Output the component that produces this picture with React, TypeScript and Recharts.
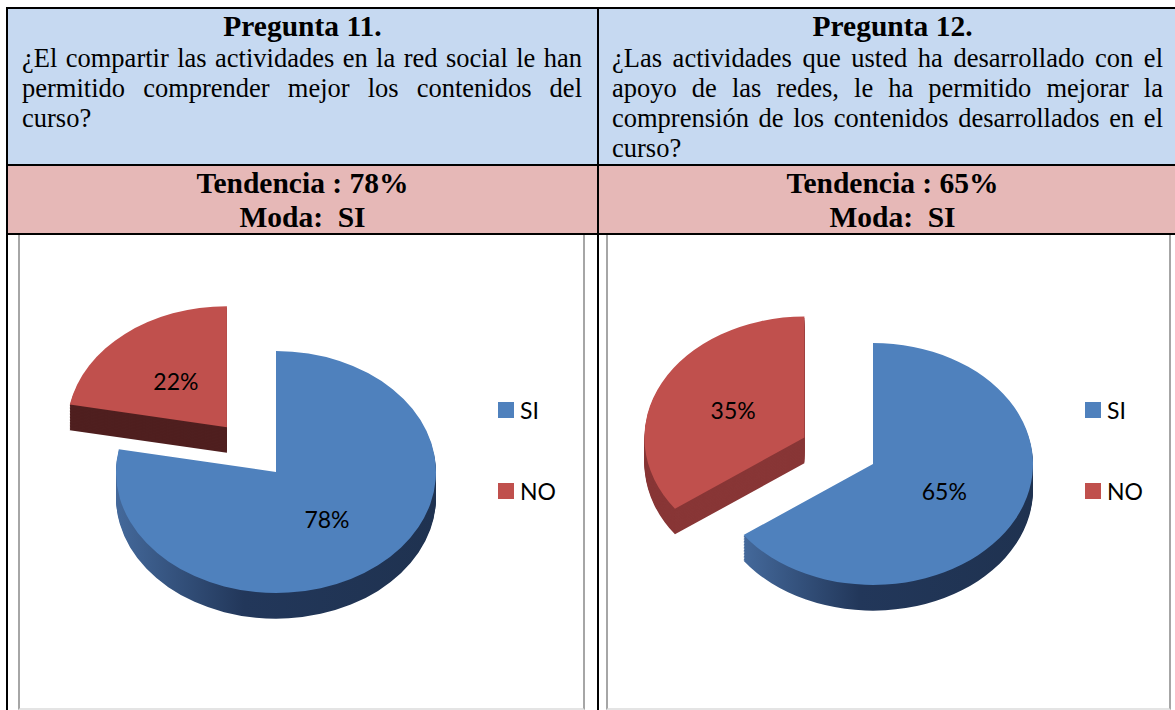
import { PieChart, Pie, Cell, Legend } from 'recharts'

const CATEGORIES = ['SI', 'NO']
const Q11_VALUES = [78, 22]
const Q12_VALUES = [65, 35]

const Q11_TITLE = 'Pregunta 11.'
const Q12_TITLE = 'Pregunta 12.'
const Q11_LINES = [
  '¿El compartir las actividades en la red social le han',
  'permitido comprender mejor los contenidos del',
  'curso?',
]
const Q12_LINES = [
  '¿Las actividades que usted ha desarrollado con el',
  'apoyo de las redes, le ha permitido mejorar la',
  'comprensión de los contenidos desarrollados en el',
  'curso?',
]
const Q11_SUMMARY = ['Tendencia : 78%', 'Moda:  SI']
const Q12_SUMMARY = ['Tendencia : 65%', 'Moda:  SI']

const TOP_COLORS = ['#4f81bd', '#c0504d']

const SERIF = '"Liberation Serif", "Times New Roman", serif'
const SANS = 'Lato, "Noto Sans", sans-serif'

// 3d look: the pie svg is squashed vertically, depth is stacked copies
const K = 0.756
const RADIUS = 160
const DEPTH = 34
const EXPLODE = 77
const RAD = Math.PI / 180
const CHART_W = 562
const CHART_H = 470

function pieData(values: number[]) {
  return CATEGORIES.map((name, i) => ({ name, value: values[i] }))
}

const makeLabel = (only: number) => (p: any) => {
  if (p.index !== only) return null
  const r = p.outerRadius * 0.5
  const x = p.cx + r * Math.cos(-p.midAngle * RAD)
  const y = p.cy + r * Math.sin(-p.midAngle * RAD)
  return (
    <text
      transform={`translate(${x},${y}) scale(1,${1 / K})`}
      textAnchor="middle"
      dominantBaseline="central"
      fontFamily={SANS}
      fontSize={23}
      fill="#000"
    >
      {p.value}%
    </text>
  )
}

function LegendBox() {
  return (
    <div style={{ fontFamily: SANS, fontSize: 23, color: '#000' }}>
      {CATEGORIES.map((c, i) => (
        <div
          key={c}
          style={{ display: 'flex', alignItems: 'center', height: 16, marginBottom: i < CATEGORIES.length - 1 ? 65 : 0 }}
        >
          <span style={{ width: 16, height: 16, background: TOP_COLORS[i], display: 'inline-block' }} />
          <span style={{ marginLeft: 6, lineHeight: '16px' }}>{c}</span>
        </div>
      ))}
    </div>
  )
}

interface Pie3DProps {
  values: number[]
  cx: number
  cy: number
  noSide: string
  legendLeft: number
}

function Pie3D(props: Pie3DProps) {
  const { values, cx, cy, noSide, legendLeft } = props
  const data = pieData(values)
  const total = values.reduce((a, b) => a + b, 0)
  // bisector of the NO slice, clockwise from 12 o'clock
  const mid = (360 * (values[0] + values[1] / 2)) / total
  const dx = EXPLODE * Math.sin(mid * RAD)
  const dy = -EXPLODE * Math.cos(mid * RAD)
  const layers: number[] = []
  for (let d = DEPTH; d > 0; d -= 2) layers.push(d)

  const slice = (i: number, x: number, y: number, fill: string, key: string, label: any = false, legend = false) => (
    <Pie
      key={key}
      data={data}
      dataKey="value"
      nameKey="name"
      cx={x}
      cy={y}
      outerRadius={RADIUS}
      startAngle={90}
      endAngle={-270}
      stroke="none"
      isAnimationActive={false}
      labelLine={false}
      label={label}
      legendType={legend ? 'square' : 'none'}
    >
      {data.map((e, j) => (
        <Cell key={e.name} fill={j === i ? fill : 'none'} stroke="none" />
      ))}
    </Pie>
  )

  return (
    <PieChart width={CHART_W} height={CHART_H} margin={{ top: 0, right: 0, bottom: 0, left: 0 }}>
      {layers.map(d => slice(1, cx + dx, cy + dy + d, noSide, 'ns' + d))}
      {slice(1, cx + dx, cy + dy, TOP_COLORS[1], 'nt', makeLabel(1))}
      {layers.map(d => slice(0, cx, cy + d, 'url(#siSide)', 'ss' + d))}
      {slice(0, cx, cy, TOP_COLORS[0], 'st', makeLabel(0), true)}
      <Legend
        layout="vertical"
        align="right"
        verticalAlign="middle"
        content={() => <LegendBox />}
        wrapperStyle={{ left: legendLeft, top: 167, width: 80, height: 100 }}
      />
    </PieChart>
  )
}

function Lines(props: { lines: string[]; left: number; width: number; top: number }) {
  return (
    <div style={{ position: 'absolute', left: props.left, top: props.top, width: props.width, fontSize: 26.5, lineHeight: '30px' }}>
      {props.lines.map((l, i) => (
        <div
          key={i}
          style={{
            whiteSpace: 'nowrap',
            textAlign: 'justify',
            textAlignLast: i < props.lines.length - 1 ? 'justify' : 'left',
          }}
        >
          {l}
        </div>
      ))}
    </div>
  )
}

function Centered(props: { lines: string[]; left: number; width: number; top: number; lineHeight: number }) {
  return (
    <div
      style={{
        position: 'absolute',
        left: props.left,
        top: props.top,
        width: props.width,
        textAlign: 'center',
        fontWeight: 'bold',
        fontSize: 29.5,
        lineHeight: `${props.lineHeight}px`,
        whiteSpace: 'pre',
      }}
    >
      {props.lines.map((l, i) => (
        <div key={i}>{l}</div>
      ))}
    </div>
  )
}

const line = (left: number, top: number, width: number, height: number, color = '#000') => (
  <div style={{ position: 'absolute', left, top, width, height, background: color }} />
)

export default function App() {
  return (
    <div
      style={{
        position: 'absolute',
        left: 0,
        top: 0,
        width: 1175,
        height: 710,
        overflow: 'hidden',
        background: '#fff',
        fontFamily: SERIF,
        color: '#000',
      }}
    >
      <style>{`
        .pie-q11 svg.recharts-surface { transform: scaleY(${K}); transform-origin: 0px 237px; }
        .pie-q12 svg.recharts-surface { transform: scaleY(${K}); transform-origin: 0px 229px; }
      `}</style>
      <svg width={0} height={0} style={{ position: 'absolute' }}>
        <defs>
          <linearGradient id="siSide" x1="0" y1="0" x2="1" y2="0">
            <stop offset="0" stopColor="#44699b" />
            <stop offset="0.4" stopColor="#22375a" />
            <stop offset="1" stopColor="#1f3250" />
          </linearGradient>
        </defs>
      </svg>

      {/* cell backgrounds */}
      <div style={{ position: 'absolute', left: 8, top: 9, width: 1167, height: 155, background: '#c6d9f1' }} />
      <div style={{ position: 'absolute', left: 8, top: 166, width: 1167, height: 67, background: '#e6b8b7' }} />

      {/* table rules */}
      {line(6, 7, 1169, 2)}
      {line(6, 7, 2, 703)}
      {line(6, 164, 1169, 2)}
      {line(6, 233, 1169, 2)}
      {line(597, 7, 2, 703)}

      <Centered lines={[Q11_TITLE]} left={8} width={589} top={10} lineHeight={32} />
      <Centered lines={[Q12_TITLE]} left={599} width={587} top={10} lineHeight={32} />
      <Lines lines={Q11_LINES} left={22} width={560} top={43} />
      <Lines lines={Q12_LINES} left={612} width={551} top={43} />
      <Centered lines={Q11_SUMMARY} left={8} width={589} top={166} lineHeight={34} />
      <Centered lines={Q12_SUMMARY} left={599} width={587} top={166} lineHeight={34} />

      {/* chart frames */}
      <div
        className="pie-q11"
        style={{
          position: 'absolute',
          left: 18,
          top: 235,
          width: 567,
          height: 475,
          boxSizing: 'border-box',
          borderLeft: '2px solid #a6a6a6',
          borderRight: '2px solid #a6a6a6',
          borderBottom: '2px solid #e4e4e4',
        }}
      >
        <Pie3D values={Q11_VALUES} cx={256} cy={237} noSide="#4f1f1f" legendLeft={478} />
      </div>
      <div
        className="pie-q12"
        style={{
          position: 'absolute',
          left: 606,
          top: 235,
          width: 565,
          height: 475,
          boxSizing: 'border-box',
          borderLeft: '2px solid #a6a6a6',
          borderRight: '2px solid #a6a6a6',
          borderBottom: '2px solid #e4e4e4',
        }}
      >
        <Pie3D values={Q12_VALUES} cx={265} cy={229} noSide="#883636" legendLeft={477} />
      </div>
    </div>
  )
}
